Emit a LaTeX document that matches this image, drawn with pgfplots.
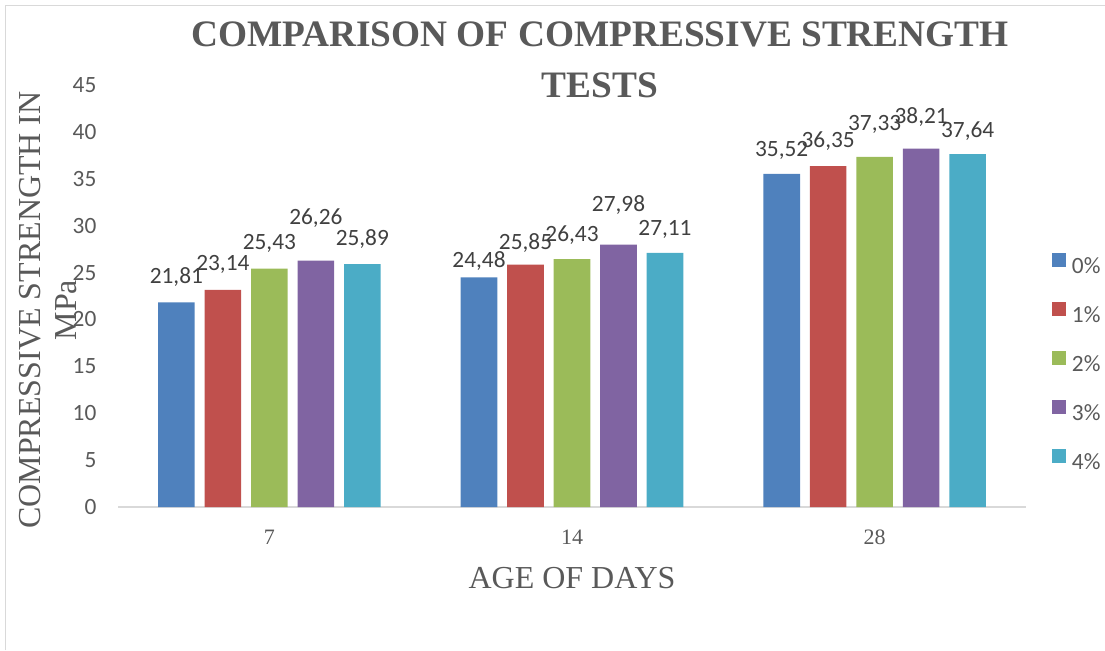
\documentclass[border=0pt]{standalone}
\usepackage{pgfplots}
\pgfplotsset{compat=1.18}
\usepackage{pgfplotstable}
\usepackage{fontspec}
\setmainfont{Carlito}
\newfontfamily\serifLS{Liberation Serif}
\definecolor{c0}{HTML}{4F81BD}
\definecolor{c1}{HTML}{C0504D}
\definecolor{c2}{HTML}{9BBB59}
\definecolor{c3}{HTML}{8064A2}
\definecolor{c4}{HTML}{4BACC6}
\definecolor{txt}{HTML}{595959}
\definecolor{lbl}{HTML}{404040}
\definecolor{axl}{HTML}{D9D9D9}

\pgfplotstableread{
x y dy lab
0 21.81 26 21,81
1 24.48 17 24,48
2 35.52 25 35,52
}\tA
\pgfplotstableread{
x y dy lab
0 23.14 27 23,14
1 25.85 22 25,85
2 36.35 26 36,35
}\tB
\pgfplotstableread{
x y dy lab
0 25.43 26 25,43
1 26.43 25 26,43
2 37.33 34 37,33
}\tC
\pgfplotstableread{
x y dy lab
0 26.26 44 26,26
1 27.98 41 27,98
2 38.21 33 38,21
}\tD
\pgfplotstableread{
x y dy lab
0 25.89 26 25,89
1 27.11 25 27,11
2 37.64 24 37,64
}\tE

\begin{document}
\begin{tikzpicture}
\path[use as bounding box] (0,0) rectangle (828.75pt,487.5pt);
\draw[axl, line width=1.1pt] (4.3pt,0pt) -- (4.3pt,483.2pt) -- (828.75pt,483.2pt);
\begin{axis}[
  at={(88.5pt,107.25pt)}, anchor=south west,
  scale only axis, width=681pt, height=316.5pt,
  ybar, bar width=0.121,
  xmin=-0.5, xmax=2.5, ymin=0, ymax=45,
  xtick={0,1,2}, xticklabels={7,14,28},
  ytick={0,5,...,45},
  major tick length=0pt,
  axis x line*=bottom, axis y line*=left,
  y axis line style={draw=none},
  x axis line style={-, draw=axl, line width=1.5pt},
  /pgf/number format/assume math mode=true,
  yticklabel style={anchor=east, inner sep=0pt, xshift=-16pt, font=\fontsize{17.5}{18}\selectfont, text=txt},
  xticklabel style={anchor=base, inner sep=0pt, yshift=-28.1pt, font=\serifLS\fontsize{16.5}{18}\selectfont, text=txt},
  title={COMPARISON OF COMPRESSIVE STRENGTH\\TESTS},
  title style={at={(axis description cs:0.5308,1.0403)}, anchor=center, align=center, inner sep=0pt,
    font=\serifLS\bfseries\fontsize{28}{38}\selectfont, text=txt},
  ylabel={COMPRESSIVE STRENGTH IN\\MPa},
  ylabel style={at={(axis description cs:-0.0771,0.4668)}, anchor=center, align=center, inner sep=0pt,
    font=\serifLS\fontsize{24}{27}\selectfont, text=txt},
  xlabel={AGE OF DAYS},
  xlabel style={at={(axis description cs:0.5,-0.1682)}, anchor=center, inner sep=0pt,
    font=\serifLS\fontsize{24}{27}\selectfont, text=txt},
  legend style={at={(axis description cs:1.0286,0.601)}, anchor=north west, draw=none, fill=none,
    inner sep=0pt, outer sep=0pt, row sep=18.5pt, column sep=4.5pt,
    font=\fontsize{17.5}{18}\selectfont, text=txt,
    nodes={inner sep=0pt, text height=12pt, text depth=3pt}},
  legend cell align=left,
  legend image code/.code={\fill[#1, draw=none] (0pt,0.25pt) rectangle (10.5pt,10.75pt);},
  every axis plot/.append style={draw=none},
  point meta=explicit symbolic,
  nodes near coords,
  visualization depends on={\thisrow{dy} \as \dy},
  every node near coord/.append style={anchor=base, inner sep=0pt, yshift={(\dy-7.4)*0.75pt},
    font=\fontsize{17.5}{18}\selectfont, text=lbl},
]
\addplot[fill=c0, bar shift=-0.3072] table[x=x, y=y, meta=lab] {\tA};
\addplot[fill=c1, bar shift=-0.1536] table[x=x, y=y, meta=lab] {\tB};
\addplot[fill=c2, bar shift=0] table[x=x, y=y, meta=lab] {\tC};
\addplot[fill=c3, bar shift=0.1536] table[x=x, y=y, meta=lab] {\tD};
\addplot[fill=c4, bar shift=0.3072] table[x=x, y=y, meta=lab] {\tE};
\legend{0\%,1\%,2\%,3\%,4\%}
\end{axis}
\end{tikzpicture}
\end{document}
